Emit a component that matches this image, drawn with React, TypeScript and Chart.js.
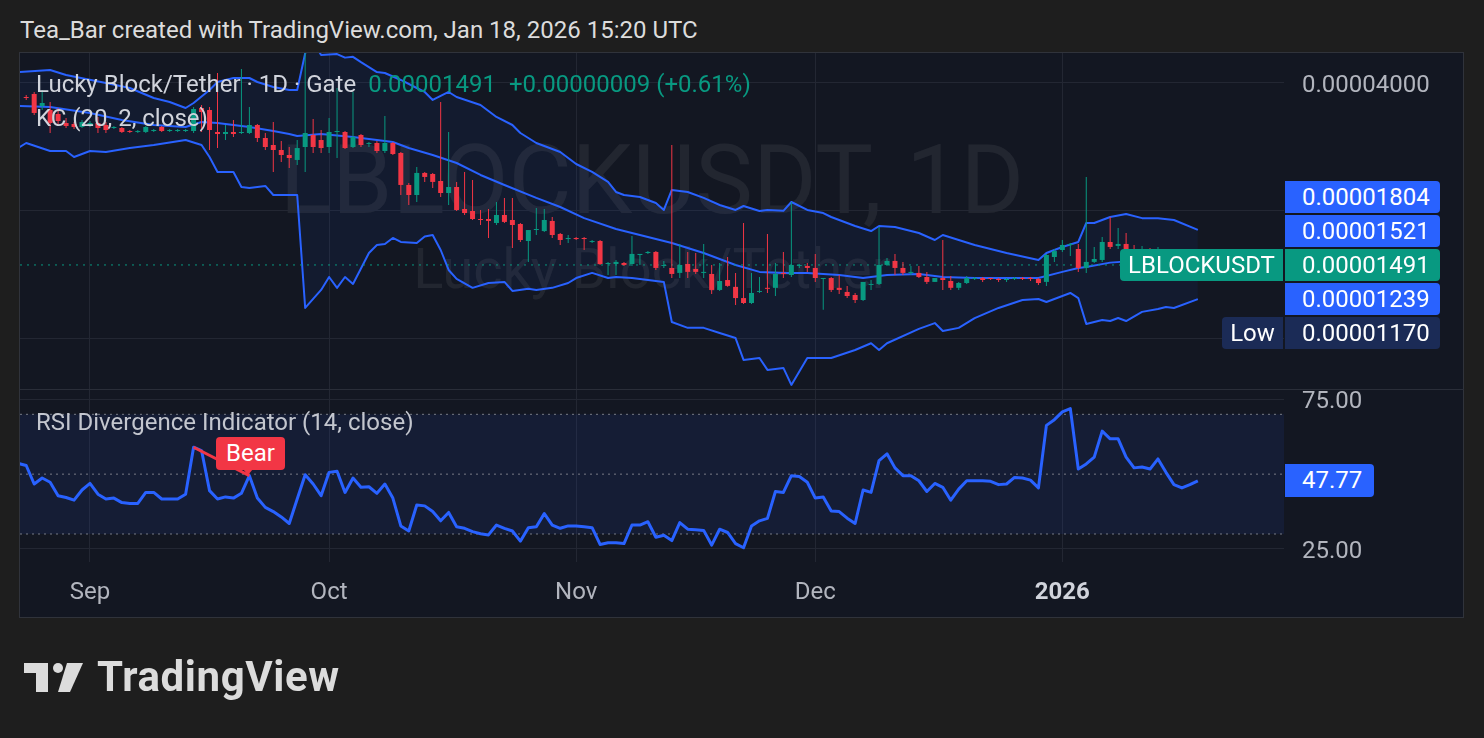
import React, { useEffect, useRef } from "react";
import { Chart, registerables } from "chart.js";

Chart.register(...registerables);

// ---------- data (prices in units of 0.00000001 USDT) ----------
const PRICE_UNIT = 1e-8;
// daily candles, index 0 = 2025-08-24 ... index 147 = 2026-01-18
const candleOpen = [
  3708, 3769, 3531, 3455, 3381, 3220, 3203, 3151, 3185, 3220, 3185, 3134, 3134, 3083, 3067, 3067, 3083, 3151, 3083, 3083,
  3083, 3083, 3493, 3455, 3067, 3033, 3067, 3050, 3050, 3185, 2968, 2858, 2781, 2707, 2635, 2827, 3017, 2936, 2827, 3067,
  3067, 2827, 3017, 2874, 2889, 2766, 2889, 2737, 2301, 2179, 2456, 2442, 2351, 2203, 2276, 2020, 1998, 1913, 1913, 1872,
  1955, 1903, 1862, 1698, 1802, 1792, 1893, 1764, 1716, 1726, 1726, 1689, 1698, 1499, 1499, 1507, 1499, 1574, 1591, 1600,
  1483, 1467, 1428, 1499, 1459, 1428, 1420, 1302, 1374, 1324, 1246, 1213, 1288, 1317, 1317, 1428, 1412, 1483, 1483, 1467,
  1382, 1389, 1317, 1288, 1267, 1233, 1338, 1345, 1491, 1524, 1467, 1428, 1428, 1397, 1360, 1389, 1367, 1317, 1352, 1382,
  1389, 1389, 1382, 1374, 1382, 1389, 1389, 1382, 1360, 1557, 1617, 1662, 1626, 1467, 1516, 1532, 1689, 1653, 1671, 1626,
  1600, 1617, 1574, 1608, 1566, 1532, 1557, 1482,
];
const candleHigh = [
  3748, 3810, 3851, 3609, 3493, 3309, 3237, 3273, 3255, 3327, 3237, 3168, 3151, 3100, 3100, 3168, 3117, 3168, 3117, 3117,
  3117, 3512, 3550, 3512, 4223, 3185, 3273, 4315, 3512, 3203, 3050, 3237, 2920, 2827, 2936, 4915, 3291, 3100, 3309, 3893,
  3083, 3810, 3033, 2905, 2920, 3345, 2905, 2752, 2326, 2537, 2469, 2456, 3609, 3067, 2339, 2469, 2364, 2009, 2020, 2098,
  2145, 2145, 1872, 1802, 2031, 2020, 1934, 1773, 1754, 1735, 1735, 1707, 1707, 1516, 1532, 1516, 1745, 1583, 1608, 1608,
  1524, 2858, 1671, 1600, 1591, 1671, 1491, 1507, 1557, 1428, 1872, 1428, 1397, 1764, 1507, 1600, 2098, 1499, 1507, 1583,
  1389, 1397, 1412, 1331, 1281, 1360, 1374, 1832, 1549, 1583, 1516, 1483, 1483, 1436, 1389, 1707, 1404, 1360, 1404, 1397,
  1397, 1389, 1389, 1389, 1397, 1397, 1397, 1389, 1583, 1626, 1707, 1680, 1671, 2403, 1644, 1735, 1934, 1822, 1773, 1662,
  1653, 1635, 1644, 1626, 1583, 1574, 1574, 1505,
];
const candleLow = [
  3648, 3363, 3455, 3050, 3203, 3134, 3117, 3134, 3151, 3050, 3050, 3117, 3050, 3050, 3050, 3050, 3067, 3067, 3067, 3067,
  3067, 3050, 3067, 2781, 2811, 2936, 2985, 3033, 3033, 2905, 2781, 2469, 2607, 2523, 2564, 2469, 2737, 2737, 2737, 2663,
  2796, 2811, 2827, 2827, 2737, 2737, 2707, 2179, 2064, 2098, 2339, 2264, 2156, 2064, 1998, 1955, 1903, 1852, 1726, 1852,
  1872, 1635, 1689, 1516, 1754, 1783, 1726, 1662, 1680, 1707, 1617, 1680, 1491, 1412, 1412, 1483, 1483, 1491, 1583, 1451,
  1467, 1389, 1389, 1389, 1420, 1389, 1274, 1295, 1324, 1200, 1206, 1206, 1281, 1281, 1260, 1389, 1397, 1467, 1436, 1360,
  1170, 1288, 1274, 1246, 1213, 1226, 1302, 1338, 1483, 1412, 1412, 1412, 1389, 1345, 1360, 1302, 1302, 1302, 1345, 1374,
  1360, 1374, 1360, 1360, 1374, 1374, 1367, 1338, 1331, 1516, 1600, 1566, 1436, 1428, 1507, 1516, 1626, 1626, 1617, 1583,
  1574, 1557, 1557, 1549, 1516, 1507, 1467, 1470,
];
const candleClose = [
  3688, 3400, 3589, 3220, 3255, 3168, 3151, 3237, 3220, 3134, 3100, 3151, 3067, 3067, 3083, 3151, 3100, 3083, 3100, 3100,
  3100, 3474, 3418, 3100, 3033, 3067, 3033, 3067, 3185, 2968, 2827, 2781, 2707, 2663, 2811, 3050, 2827, 2811, 3067, 3083,
  2811, 2985, 2858, 2889, 2766, 2889, 2722, 2301, 2179, 2456, 2403, 2339, 2203, 2276, 2009, 1976, 1913, 1903, 1893, 1955,
  1883, 1852, 1707, 1802, 1812, 1903, 1754, 1707, 1726, 1716, 1716, 1698, 1499, 1507, 1516, 1491, 1583, 1583, 1600, 1467,
  1491, 1420, 1491, 1436, 1436, 1436, 1302, 1367, 1331, 1246, 1213, 1281, 1295, 1310, 1420, 1420, 1491, 1491, 1467, 1389,
  1389, 1302, 1302, 1260, 1233, 1360, 1345, 1491, 1524, 1467, 1428, 1436, 1397, 1360, 1389, 1374, 1317, 1352, 1389, 1389,
  1374, 1382, 1374, 1382, 1389, 1382, 1382, 1352, 1574, 1608, 1662, 1671, 1467, 1516, 1540, 1689, 1644, 1671, 1626, 1600,
  1617, 1574, 1608, 1566, 1532, 1557, 1482, 1491,
];

// Keltner Channel (20, 2, close) vertices: day index -> price
const kcUpperDays = [
  -1, 3, 5, 10, 13, 16, 18, 20, 21, 23, 24, 26, 28, 29, 31, 33, 34, 35, 36, 37, 39, 40, 41, 42, 44, 45, 47, 49, 50, 51,
  52, 53, 54, 57, 59, 61, 62, 64, 67, 69, 71, 73, 74, 75, 77, 79, 80, 81, 83, 85, 87, 89, 90, 92, 93, 95, 96, 98, 100,
  101, 104, 106, 107, 109, 112, 114, 115, 119, 123, 127, 128, 130, 132, 133, 134, 136, 138, 140, 142, 144, 147,
];
const kcUpper = [
  4245, 4292, 4177, 4000, 3893, 3688, 3609, 3493, 3589, 3851, 4022, 4110, 4110, 4022, 3914, 3851, 3851, 4700, 5000, 4656,
  4680, 4590, 4610, 4480, 4245, 4223, 4066, 3893, 3810, 3648, 3730, 3810, 3708, 3550, 3327, 3185, 3050, 2889, 2752, 2578,
  2469, 2339, 2215, 2179, 2156, 2087, 2009, 2239, 2215, 2145, 2064, 2009, 2053, 1998, 2009, 2000, 2098, 2009, 1976, 1934,
  1842, 1792, 1842, 1832, 1773, 1707, 1754, 1662, 1591, 1532, 1591, 1644, 1689, 1872, 1872, 1934, 1965, 1922, 1922, 1903,
  1804,
];
const kcMiddleDays = [
  -1, 3, 8, 12, 16, 20, 22, 24, 28, 31, 33, 34, 37, 41, 46, 48, 51, 54, 57, 60, 64, 67, 70, 74, 77, 81, 85, 89, 92, 95,
  98, 102, 105, 108, 112, 115, 119, 123, 127, 130, 132, 133, 136, 140, 147,
];
const kcMiddle = [
  3531, 3512, 3400, 3273, 3185, 3151, 3237, 3220, 3151, 3083, 3033, 3000, 3033, 2985, 2905, 2811, 2707, 2592, 2429, 2301,
  2145, 2042, 1922, 1812, 1754, 1680, 1591, 1491, 1436, 1428, 1428, 1412, 1389, 1412, 1420, 1397, 1389, 1389, 1389, 1436,
  1467, 1475, 1510, 1530, 1521,
];
const kcLowerDays = [
  -1, 0, 3, 5, 6, 8, 10, 13, 16, 20, 22, 23, 24, 26, 27, 28, 30, 31, 34, 35, 37, 38, 39, 40, 41, 43, 44, 45, 46, 47, 49,
  50, 51, 52, 53, 54, 56, 58, 60, 61, 63, 64, 66, 68, 69, 71, 73, 74, 76, 80, 81, 83, 85, 87, 89, 90, 92, 93, 95, 96, 98,
  100, 101, 104, 106, 107, 108, 112, 114, 115, 117, 119, 122, 125, 127, 128, 131, 132, 133, 135, 136, 137, 138, 140, 142,
  143, 144, 147,
];
const kcLower = [
  2811, 2889, 2766, 2766, 2678, 2766, 2752, 2811, 2858, 2936, 2858, 2678, 2469, 2469, 2276, 2264, 2289, 2179, 2179, 1181,
  1302, 1397, 1317, 1397, 1345, 1591, 1662, 1671, 1726, 1689, 1680, 1740, 1754, 1617, 1451, 1382, 1317, 1352, 1360, 1295,
  1310, 1302, 1317, 1352, 1389, 1428, 1389, 1397, 1389, 1360, 1094, 1060, 1060, 1031, 1003, 891, 900, 844, 853, 778, 900,
  900, 900, 940, 975, 940, 975, 1054, 1088, 1042, 1060, 1118, 1181, 1233, 1240, 1220, 1281, 1246, 1083, 1106, 1100, 1118,
  1100, 1156, 1174, 1187, 1181, 1239,
];

// RSI (14, close), first value is day -1
const rsiFirstDay = -1;
const rsiValues = [
  53.6, 52.9, 46.7, 48.7, 47.3, 42.8, 42.2, 41.3, 44.7, 46.9, 43.3, 41.7, 42.0, 40.5, 40.2, 40.2, 43.9, 43.9, 41.7, 41.7,
  41.7, 43.3, 59.0, 57.9, 44.5, 41.7, 42.4, 42.0, 43.6, 49.5, 42.0, 38.9, 37.5, 35.7, 33.5, 41.7, 49.8, 46.7, 42.8, 50.6,
  51.0, 43.9, 48.7, 45.6, 45.8, 43.6, 46.7, 42.0, 32.7, 31.0, 39.7, 39.4, 37.5, 34.4, 37.2, 32.4, 31.9, 30.8, 30.1, 29.7,
  33.0, 31.9, 31.0, 27.6, 32.1, 32.4, 36.8, 33.0, 31.9, 32.7, 32.7, 32.4, 32.1, 26.5, 27.1, 27.1, 26.8, 33.0, 33.0, 34.1,
  28.9, 29.6, 27.8, 33.8, 31.6, 31.4, 31.2, 26.3, 31.6, 30.5, 26.8, 25.4, 32.7, 34.4, 35.2, 44.2, 43.9, 49.5, 49.2, 47.3,
  42.0, 42.4, 37.7, 37.5, 35.3, 33.5, 44.7, 43.9, 54.5, 56.8, 52.1, 49.5, 49.5, 47.8, 44.2, 46.9, 45.6, 41.3, 45.0, 47.8,
  47.8, 47.8, 47.6, 46.5, 46.7, 48.9, 48.7, 48.0, 45.4, 66.3, 68.2, 70.8, 71.9, 51.7, 53.4, 55.7, 64.4, 61.8, 61.8, 55.7,
  52.1, 52.4, 51.7, 55.1, 50.6, 46.5, 45.4, 46.5, 47.77,
];
const rsiBands = [70, 50, 30];
const bearPivotDays = [21, 28];

const monthTickDays = [8, 38, 69, 99, 130];
const monthTickLabels = ["Sep", "Oct", "Nov", "Dec", "2026"];
const priceTicks = [4000, 2000, 1000];
const priceTickLabels = ["0.00004000", "", ""];
const rsiTicks = [75, 25];
const rsiTickLabels = ["75.00", "25.00"];
const lastPrice = 1491;

// ---------- view ranges ----------
const X_MIN = -0.78;
const X_MAX = 157.81;
const P_MIN = 7.609e-6;
const P_MAX = 4.7067e-5;
const R_MIN = 20.64;
const R_MAX = 78.46;

const UP = "#089981";
const DOWN = "#f23645";
const BLUE = "#2962ff";
const GRID = "#232733";
const AXIS_TEXT = "#b2b5be";
const FONT = "Roboto, sans-serif";

function buildConfig(): any {
  const colors = candleOpen.map((o, i) => (candleClose[i] >= o ? UP : DOWN));
  const bodies = candleOpen.map((o, i) => ({ x: i, y: [o * PRICE_UNIT, candleClose[i] * PRICE_UNIT] }));
  const wicks = candleOpen.map((_, i) => ({ x: i, y: [candleLow[i] * PRICE_UNIT, candleHigh[i] * PRICE_UNIT] }));
  const pts = (days: number[], vals: number[]) => days.map((d, i) => ({ x: d, y: vals[i] * PRICE_UNIT }));
  const rsiPts = rsiValues.map((v, i) => ({ x: rsiFirstDay + i, y: v }));
  const bearPts = bearPivotDays.map((d) => ({ x: d, y: rsiValues[d - rsiFirstDay] }));
  const hline = (v: number) => [
    { x: X_MIN, y: v },
    { x: X_MAX, y: v },
  ];
  const lineBase = { type: "line", pointRadius: 0, tension: 0, borderJoinStyle: "round" };

  return {
    type: "bar",
    data: {
      datasets: [
        { type: "bar", data: bodies, backgroundColor: colors, barThickness: 5, grouped: false, minBarLength: 1, borderWidth: 0, inflateAmount: 0, yAxisID: "y", order: 1 },
        { type: "bar", data: wicks, backgroundColor: colors, barThickness: 1, grouped: false, borderWidth: 0, inflateAmount: 0, yAxisID: "y", order: 2 },
        { ...lineBase, data: hline(lastPrice * PRICE_UNIT), borderColor: UP, borderWidth: 1, borderDash: [2, 5], yAxisID: "y", order: 3 },
        { ...lineBase, data: pts(kcUpperDays, kcUpper), borderColor: BLUE, borderWidth: 2, fill: 5, backgroundColor: "rgba(41,98,255,0.06)", yAxisID: "y", order: 6 },
        { ...lineBase, data: pts(kcMiddleDays, kcMiddle), borderColor: BLUE, borderWidth: 2, fill: false, yAxisID: "y", order: 5 },
        { ...lineBase, data: pts(kcLowerDays, kcLower), borderColor: BLUE, borderWidth: 2, fill: false, yAxisID: "y", order: 5 },
        { ...lineBase, data: hline(rsiBands[0]), borderColor: "#787b86", borderWidth: 1, borderDash: [2, 4], fill: 8, backgroundColor: "rgba(41,98,255,0.085)", yAxisID: "yRsi", order: 9 },
        { ...lineBase, data: hline(rsiBands[1]), borderColor: "#787b86", borderWidth: 1, borderDash: [2, 4], fill: false, yAxisID: "yRsi", order: 8 },
        { ...lineBase, data: hline(rsiBands[2]), borderColor: "#787b86", borderWidth: 1, borderDash: [2, 4], fill: false, yAxisID: "yRsi", order: 8 },
        { ...lineBase, data: rsiPts, borderColor: BLUE, borderWidth: 3, fill: false, yAxisID: "yRsi", order: 4 },
        { ...lineBase, data: bearPts, borderColor: DOWN, borderWidth: 3, fill: false, yAxisID: "yRsi", order: 3 },
      ],
    },
    options: {
      responsive: false,
      animation: false,
      devicePixelRatio: 1,
      events: [],
      layout: { padding: { left: 20, right: 20, top: 53, bottom: 120 } },
      plugins: { legend: { display: false }, tooltip: { enabled: false } },
      scales: {
        x: {
          type: "linear",
          min: X_MIN,
          max: X_MAX,
          bounds: "data",
          offset: false,
          afterBuildTicks: (s: any) => {
            s.ticks = monthTickDays.map((v) => ({ value: v }));
          },
          afterFit: (s: any) => {
            s.height = 56;
          },
          ticks: {
            autoSkip: false,
            maxRotation: 0,
            padding: 17,
            callback: (_v: any, i: number) => monthTickLabels[i],
            color: (ctx: any) => (monthTickLabels[ctx.index] === "2026" ? "#d1d4dc" : AXIS_TEXT),
            font: (ctx: any) => ({ family: FONT, size: 24, weight: monthTickLabels[ctx.index] === "2026" ? "bold" : "normal" }),
          },
          grid: { color: GRID, drawTicks: false, offset: false },
          border: { display: false },
        },
        y: {
          type: "logarithmic",
          position: "right",
          stack: "panes",
          stackWeight: 336,
          min: P_MIN,
          max: P_MAX,
          bounds: "data",
          afterBuildTicks: (s: any) => {
            s.ticks = priceTicks.map((v) => ({ value: v * PRICE_UNIT }));
          },
          afterFit: (s: any) => {
            s.width = 180;
          },
          ticks: {
            padding: 18,
            labelOffset: 3,
            color: AXIS_TEXT,
            font: { family: FONT, size: 24 },
            callback: (_v: any, i: number) => priceTickLabels[i],
          },
          grid: { color: GRID, drawTicks: false },
          border: { display: false },
        },
        yRsi: {
          type: "linear",
          position: "right",
          stack: "panes",
          stackWeight: 173,
          min: R_MIN,
          max: R_MAX,
          bounds: "data",
          afterBuildTicks: (s: any) => {
            s.ticks = rsiTicks.map((v) => ({ value: v }));
          },
          afterFit: (s: any) => {
            s.width = 180;
          },
          ticks: {
            padding: 18,
            labelOffset: 3,
            color: AXIS_TEXT,
            font: { family: FONT, size: 24 },
            callback: (_v: any, i: number) => rsiTickLabels[i],
          },
          grid: { color: GRID, drawTicks: false },
          border: { display: false },
        },
      },
    },
  };
}

const abs = (o: any): React.CSSProperties => ({ position: "absolute", ...o });

function Badge(props: { left: number; top: number; width: number; bg: string; text: string; radius: string; center?: boolean; height?: number }) {
  const h = props.height || 32;
  return (
    <div
      style={abs({
        left: props.left,
        top: props.top,
        width: props.width,
        height: h,
        lineHeight: h + "px",
        background: props.bg,
        borderRadius: props.radius,
        color: "#ffffff",
        fontSize: 24,
        boxSizing: "border-box",
        paddingLeft: props.center ? 0 : 17,
        textAlign: props.center ? "center" : "left",
        whiteSpace: "nowrap",
      })}
    >
      {props.text}
    </div>
  );
}

export default function App() {
  const ref = useRef<HTMLCanvasElement | null>(null);

  useEffect(() => {
    const canvas = ref.current;
    if (!canvas) return;
    Chart.defaults.font.family = FONT;
    const chart = new Chart(canvas, buildConfig());
    return () => chart.destroy();
  }, []);

  return (
    <div style={{ position: "fixed", left: 0, top: 0, width: 1484, height: 738, background: "#1e1e1e", overflow: "hidden", fontFamily: FONT }}>
      <div style={abs({ left: 20, top: 14, height: 32, lineHeight: "32px", fontSize: 24, color: "#dcdcdc", whiteSpace: "nowrap" })}>
        Tea_Bar created with TradingView.com, Jan 18, 2026 15:20 UTC
      </div>

      <div style={abs({ left: 19, top: 52, width: 1445, height: 566, background: "#131722", border: "1px solid #30333b", boxSizing: "border-box" })} />

      <div style={abs({ left: 20, top: 132, width: 1264, height: 97, lineHeight: "97px", fontSize: 97, textAlign: "center", color: "rgba(255,255,255,0.065)", whiteSpace: "nowrap" })}>
        LBLOCKUSDT, 1D
      </div>
      <div style={abs({ left: 20, top: 241, width: 1264, height: 56, lineHeight: "56px", fontSize: 56, textAlign: "center", color: "rgba(255,255,255,0.065)", whiteSpace: "nowrap" })}>
        Lucky Block/Tether
      </div>

      <canvas ref={ref} width={1484} height={738} style={abs({ left: 0, top: 0, width: 1484, height: 738 })} />

      <div style={abs({ left: 20, top: 389, width: 1444, height: 1, background: "#2a2e39" })} />

      <div style={abs({ left: 36, top: 68, height: 32, lineHeight: "32px", fontSize: 24, color: "#d1d4dc", whiteSpace: "nowrap" })}>
        Lucky Block/Tether · 1D · Gate
        <span style={{ color: UP, marginLeft: 12 }}>0.00001491</span>
        <span style={{ color: UP, marginLeft: 13 }}>+0.00000009 (+0.61%)</span>
      </div>
      <div style={abs({ left: 36, top: 102, height: 32, lineHeight: "32px", fontSize: 24, color: "#d1d4dc", whiteSpace: "nowrap" })}>
        KC (20, 2, close)
      </div>
      <div style={abs({ left: 36, top: 406, height: 32, lineHeight: "32px", fontSize: 24, color: "#c3c6ce", whiteSpace: "nowrap" })}>
        RSI Divergence Indicator (14, close)
      </div>

      <Badge left={1285} top={181} width={155} bg={BLUE} text="0.00001804" radius="0 4px 4px 0" />
      <Badge left={1285} top={215} width={155} bg={BLUE} text="0.00001521" radius="0 4px 4px 0" />
      <Badge left={1285} top={249} width={155} bg={UP} text="0.00001491" radius="0 4px 4px 0" />
      <Badge left={1120} top={249} width={163} bg={UP} text="LBLOCKUSDT" radius="4px 0 0 4px" center />
      <Badge left={1285} top={283} width={155} bg={BLUE} text="0.00001239" radius="0 4px 4px 0" />
      <Badge left={1285} top={317} width={155} bg="#1b2b56" text="0.00001170" radius="0 4px 4px 0" />
      <Badge left={1222} top={317} width={61} bg="#1b2b56" text="Low" radius="4px 0 0 4px" center />
      <Badge left={1285} top={464} width={89} bg={BLUE} text="47.77" radius="0 4px 4px 0" height={33} />

      <div style={abs({ left: 216, top: 437, width: 69, height: 33, lineHeight: "33px", background: DOWN, borderRadius: 4, color: "#ffffff", fontSize: 24, textAlign: "center" })}>
        Bear
      </div>
      <div style={abs({ left: 243, top: 469, width: 0, height: 0, borderLeft: "5px solid transparent", borderRight: "5px solid transparent", borderTop: "6px solid " + DOWN })} />

      <svg style={abs({ left: 20, top: 655, width: 70, height: 45 })} viewBox="20 655 70 45">
        <path d="M24 663 H48 V692 H36 V673 H24 Z" fill="#dcdcdc" />
        <circle cx="58" cy="668" r="5" fill="#dcdcdc" />
        <path d="M67 663 H83 L70 692 H58 Z" fill="#dcdcdc" />
      </svg>
      <div style={abs({ left: 97, top: 656, height: 42, lineHeight: "42px", fontSize: 42, fontWeight: 700, color: "#dcdcdc", whiteSpace: "nowrap", letterSpacing: 0.6 })}>
        TradingView
      </div>
    </div>
  );
}
